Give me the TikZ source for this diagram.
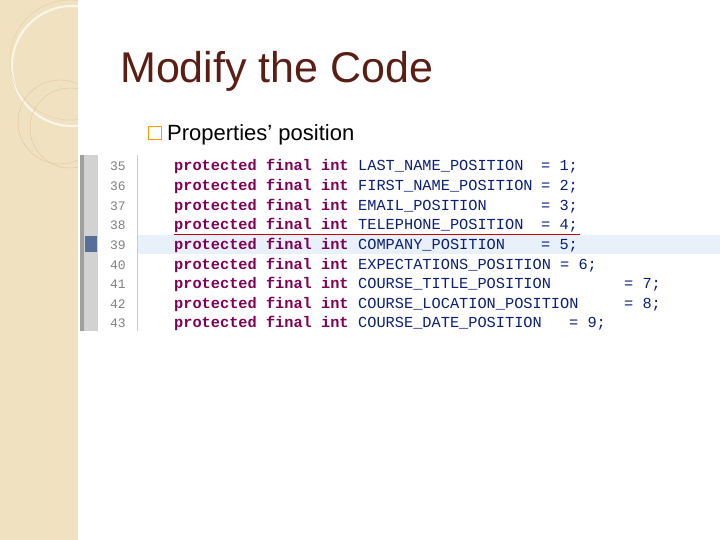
\documentclass[tikz,border=0pt]{standalone}
\usepackage{fontspec}
\setmainfont{Liberation Sans}
\newfontfamily\codefont{Liberation Mono}
\definecolor{panel}{HTML}{F0E2C0}
\definecolor{titlebrown}{HTML}{5A1E14}
\definecolor{keyword}{HTML}{7F0055}
\definecolor{ident}{HTML}{0A1E78}
\definecolor{rowblue}{HTML}{E8F0FA}
\definecolor{marker}{HTML}{5A6E9A}

\begin{document}
\begin{tikzpicture}[x=1pt,y=-1pt,
    codetext/.style={anchor=base west,inner sep=0pt,font=\codefont\fontsize{15.3}{16}\selectfont},
    kw/.style={codetext,text=keyword,font=\codefont\bfseries\fontsize{15.3}{16}\selectfont},
    lineno/.style={anchor=base east,inner sep=0pt,text=gray,font=\codefont\fontsize{13}{14}\selectfont}]
% Page and side panel
   \useasboundingbox (0,0) rectangle (720,540);
   \fill[panel] (0,0) rectangle (78,540);
   \begin{scope}
     \clip (0,0) rectangle (78,540);
     \draw[white!70!panel,line width=2pt] (72,66) circle (60);
     \draw[panel!70!brown,line width=0.4pt] (60,122) circle (42);
     \draw[panel!70!brown,line width=0.4pt] (70,128) circle (40);
     \draw[panel!80!brown,line width=0.4pt] (70,60) circle (60);
   \end{scope}
% Title and bullet
   \node (title) [anchor=base west,inner sep=0pt,text=titlebrown,font=\fontsize{43}{48}\selectfont] at (120,83) {Modify the Code};
   \node (box) [draw=orange!80!yellow,line width=1.4pt,minimum size=13pt,inner sep=0pt] at (155,133) {};
   \node (bullet) [anchor=base west,inner sep=0pt,font=\fontsize{22}{26}\selectfont] at (167,141) {Properties’ position};
% Editor gutter
   \fill[rowblue] (138,235) rectangle (720,254);
   \fill[gray!35] (80,155) rectangle (98,331);
   \fill[gray!75] (80,155) rectangle (84,331);
   \fill[marker] (85,236) rectangle (97,252);
   \draw[gray!40,line width=1pt] (137,155) -- (137,331);
   \coordinate (redl) at (174,234);
   \coordinate (redr) at (580,234);
   \draw[red!80!black,line width=0.8pt] (redl) -- (redr);
% Code lines
   \foreach \n/\name/\ex/\val [count=\i from 0] in {
       35/LAST\_NAME\_POSITION/541/1,
       36/FIRST\_NAME\_POSITION/541/2,
       37/EMAIL\_POSITION/541/3,
       38/TELEPHONE\_POSITION/541/4,
       39/COMPANY\_POSITION/541/5,
       40/EXPECTATIONS\_POSITION/560/6,
       41/COURSE\_TITLE\_POSITION/624/7,
       42/COURSE\_LOCATION\_POSITION/624/8,
       43/COURSE\_DATE\_POSITION/569/9} {
     \pgfmathsetmacro\yb{171+19.6*\i}
     \node (num\n)  [lineno] at (126,\yb) {\n};
     \node (kw\n)   [kw] at (174,\yb) {protected final int};
     \node (id\n)   [codetext,text=ident] at (358,\yb) {\name};
     \node (val\n)  [codetext,text=ident] at (\ex,\yb) {= \val;};
   }
\end{tikzpicture}
\end{document}
